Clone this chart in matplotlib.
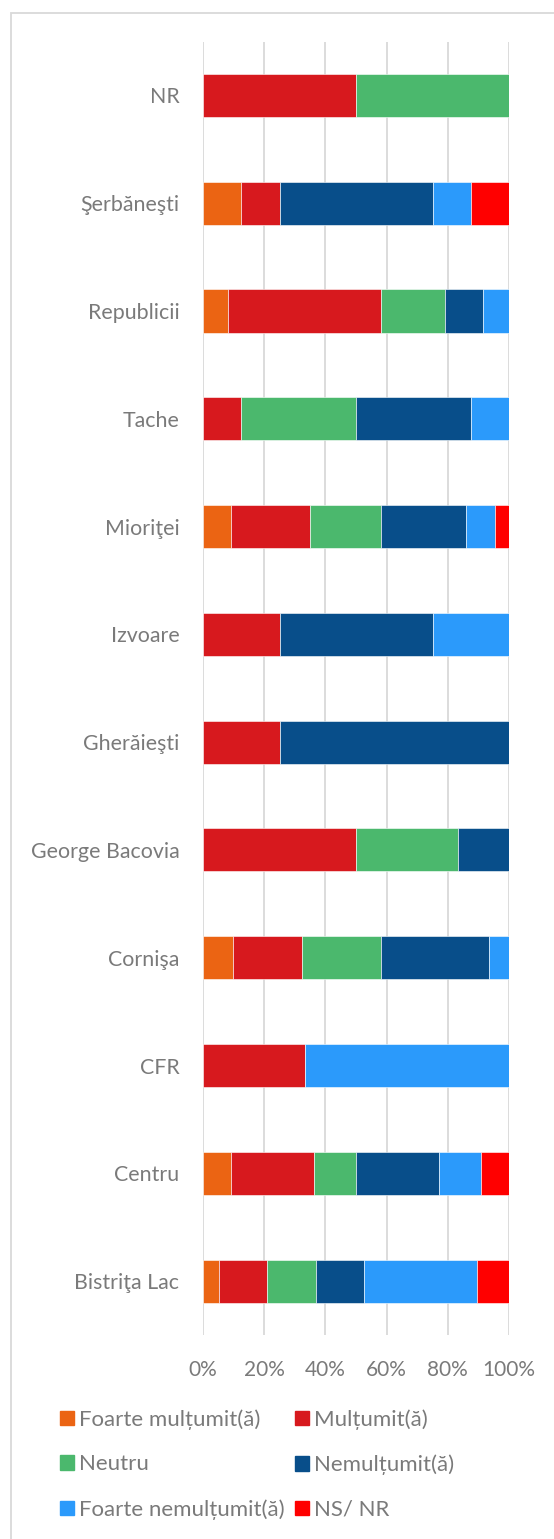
import matplotlib
matplotlib.use("Agg")
import matplotlib.pyplot as plt
from matplotlib.patches import Rectangle, Patch
import numpy as np

categories = ["NR", "Şerbăneşti", "Republicii", "Tache", "Mioriţei", "Izvoare",
              "Gherăieşti", "George Bacovia", "Cornişa", "CFR", "Centru", "Bistriţa Lac"]
series_names = ["Foarte mulțumit(ă)", "Mulțumit(ă)", "Neutru", "Nemulțumit(ă)",
                "Foarte nemulțumit(ă)", "NS/ NR"]
foarte_multumit = [0, 12.5, 8.33, 0, 9.30, 0, 0, 0, 9.68, 0, 9.09, 5.26]
multumit = [50, 12.5, 50, 12.5, 25.58, 25, 25, 50, 22.58, 33.33, 27.27, 15.79]
neutru = [50, 0, 20.83, 37.5, 23.26, 0, 0, 33.33, 25.81, 0, 13.64, 15.79]
nemultumit = [0, 50, 12.5, 37.5, 27.91, 50, 75, 16.67, 35.48, 0, 27.27, 15.79]
foarte_nemultumit = [0, 12.5, 8.33, 12.5, 9.30, 25, 0, 0, 6.45, 66.67, 13.64, 36.84]
ns_nr = [0, 12.5, 0, 0, 4.65, 0, 0, 0, 0, 0, 9.09, 10.53]
x_ticks = [0, 20, 40, 60, 80, 100]
x_tick_labels = ["0%", "20%", "40%", "60%", "80%", "100%"]

colors = ["#EB6413", "#D7191E", "#4BB86D", "#084E8A", "#2B9AFB", "#FF0000"]
series = [foarte_multumit, multumit, neutru, nemultumit, foarte_nemultumit, ns_nr]

plt.rcParams['font.family'] = ['Lato', 'DejaVu Sans']
TXT = "#7A7A7A"

W, H = 554, 1539
fig = plt.figure(figsize=(W / 100, H / 100), dpi=100)

# outer chart frame
fig.patches.append(Rectangle((10.5 / W, -0.01), 2, 1 - 12.5 / H + 0.01,
                             transform=fig.transFigure, fill=False,
                             edgecolor="#D9D9D9", linewidth=1.3))

left, right = 203 / W, 509 / W
top, bottom = 1 - 41.5 / H, 1 - 1335 / H
ax = fig.add_axes([left, bottom, right - left, top - bottom])

y = np.arange(len(categories))
cum = np.zeros(len(categories))
handles = []
for name, vals, c in zip(series_names, series, colors):
    vals = np.array(vals, dtype=float)
    ax.barh(y, vals, left=cum, height=0.4, color=c, edgecolor="white",
            linewidth=0.4, zorder=3, label=name)
    cum += vals
    handles.append(Patch(facecolor=c, edgecolor=c, label=name))

ax.set_xlim(0, 100)
ax.set_ylim(len(categories) - 0.5, -0.5)
ax.set_yticks(y)
ax.set_yticklabels(categories, fontsize=15.4, color=TXT)
ax.set_xticks(x_ticks)
ax.set_xticklabels(x_tick_labels, fontsize=15, color=TXT)
ax.tick_params(axis="y", length=0, pad=17)
ax.tick_params(axis="x", length=0, pad=18)
for s in ax.spines.values():
    s.set_visible(False)
ax.grid(axis="x", color="#D9D9D9", linewidth=1.3, zorder=0)
ax.set_axisbelow(True)

# legend: rows (FM, M), (N, Nem), (FN, NS) -> matplotlib fills columns
order = [0, 2, 4, 1, 3, 5]
LFS = 16
leg = fig.legend([handles[i] for i in order], [series_names[i] for i in order],
                 ncol=2, loc="upper left", bbox_to_anchor=(60 / W, 1 - 1409 / H),
                 frameon=False, fontsize=LFS, labelcolor=TXT,
                 handlelength=0.63, handleheight=0.63, handletextpad=0.23,
                 columnspacing=0.45, labelspacing=1.12, borderaxespad=0,
                 borderpad=0)

fig.savefig("out.png", dpi=100, facecolor="white")
